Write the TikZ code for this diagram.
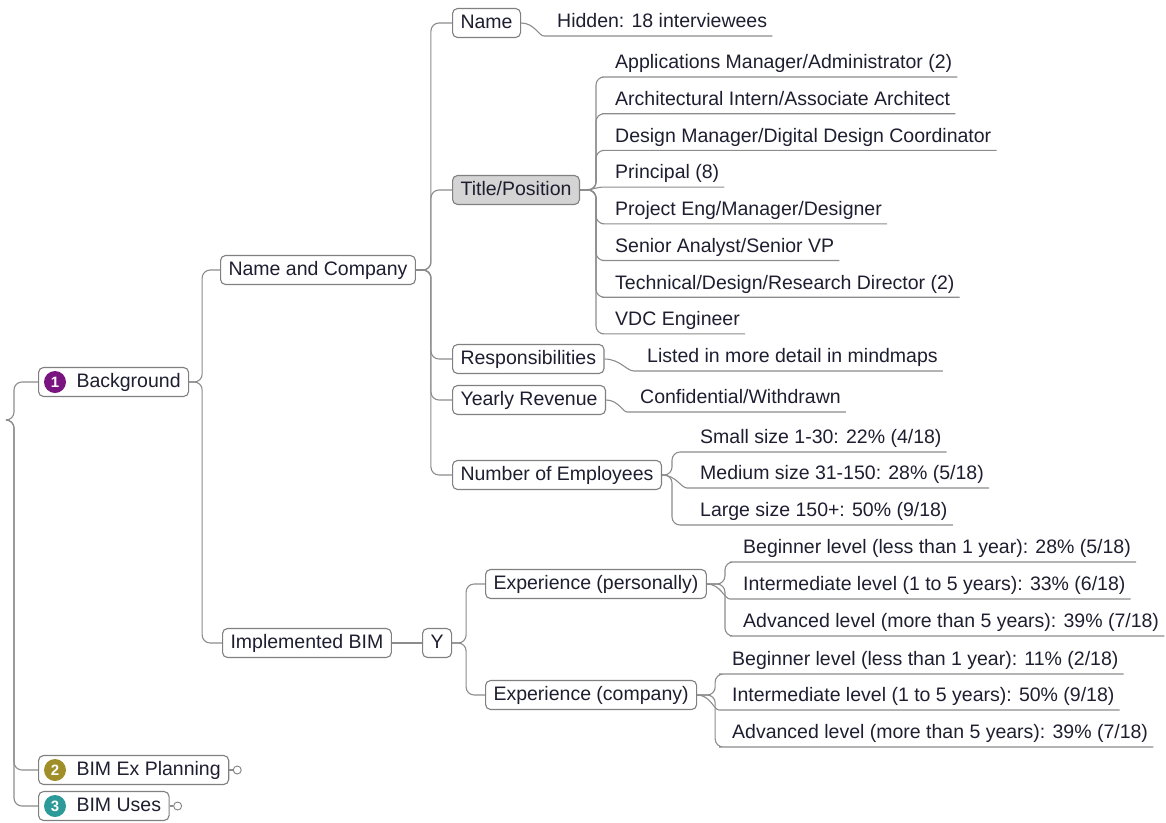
\documentclass[tikz,border=0pt]{standalone}
\usepackage{fontspec}
\setmainfont{Liberation Sans}
\definecolor{linegray}{HTML}{8C8C8C}
\definecolor{boxgray}{HTML}{808080}
\definecolor{titlefill}{HTML}{D4D4D4}
\definecolor{inkdark}{HTML}{1E1E30}
\definecolor{numpurple}{HTML}{7A1480}
\definecolor{numolive}{HTML}{A08F28}
\definecolor{numteal}{HTML}{2C9A98}
\tikzset{
  topic/.style={draw=boxgray, line width=1.1pt, rounded corners=5pt, fill=white, anchor=west,
    inner xsep=8pt, inner ysep=0pt, minimum height=29pt, text height=14pt, text depth=4pt, text=inkdark},
  leaf/.style={anchor=south west, inner xsep=5pt, inner ysep=4pt, text height=14pt, text depth=4pt, text=inkdark},
  link/.style={draw=linegray, line width=1.1pt, rounded corners=8pt},
  numdot/.style={circle, fill=#1, text=white, inner sep=0pt, minimum size=22pt,
    font=\fontsize{15}{15}\selectfont\bfseries},
  knob/.style={circle, draw=boxgray, line width=0.9pt, fill=white, inner sep=0pt, minimum size=8pt}
}
\begin{document}
\begin{tikzpicture}[x=1pt,y=-1pt,font=\fontsize{19.5}{23}\selectfont]
\useasboundingbox (0,0) rectangle (1166,822);
\coordinate (root) at (6,420);
\node[topic] (bg) at (38,382) {\hspace*{30pt}Background};
\node[topic] (bep) at (38,770) {\hspace*{30pt}BIM Ex Planning};
\node[topic] (bu) at (38,806) {\hspace*{30pt}BIM Uses};
\node[numdot=numpurple] (n1) at (55,382) {1};
\node[numdot=numolive] (n2) at (55,770) {2};
\node[numdot=numteal] (n3) at (55,806) {3};
\node[knob] (bepk) at ([xshift=8]bep.east) {};
\node[knob] (buk) at ([xshift=8]bu.east) {};
\draw[link] (bep.east) -- (bepk.west);
\draw[link] (bu.east) -- (buk.west);

\node[topic] (nc) at (220,270) {Name and Company};
\node[topic] (ib) at (222,643) {Implemented BIM};

\node[topic] (name) at (452,23) {Name};
\node[topic, fill=titlefill] (title) at (452,190) {Title/Position};
\node[topic] (resp) at (452,359) {Responsibilities};
\node[topic] (yr) at (452,400) {Yearly Revenue};
\node[topic] (ne) at (452,475) {Number of Employees};

\node[topic] (yes) at (422,643) {Y};
\node[topic] (ep) at (485,584) {Experience (personally)};
\node[topic] (ec) at (485,695) {Experience (company)};

\node[leaf] (hid) at (552,36) {Hidden: 18 interviewees};
\foreach \t [count=\i] in {Applications Manager/Administrator (2),Architectural Intern/Associate Architect,
  Design Manager/Digital Design Coordinator,Principal (8),Project Eng/Manager/Designer,
  Senior Analyst/Senior VP,Technical/Design/Research Director (2),VDC Engineer}
  \node[leaf] (t\i) at (610,40.3+36.7*\i) {\t};
\node[leaf] (lst) at (642,371) {Listed in more detail in mindmaps};
\node[leaf] (conf) at (635,412) {Confidential/Withdrawn};
\node[leaf] (e1) at (695,452) {Small size 1-30: 22\% (4/18)};
\node[leaf] (e2) at (695,488) {Medium size 31-150: 28\% (5/18)};
\node[leaf] (e3) at (695,525) {Large size 150+: 50\% (9/18)};
\node[leaf] (p1) at (738,562) {Beginner level (less than 1 year): 28\% (5/18)};
\node[leaf] (p2) at (738,599) {Intermediate level (1 to 5 years): 33\% (6/18)};
\node[leaf] (p3) at (738,636) {Advanced level (more than 5 years): 39\% (7/18)};
\node[leaf] (c1) at (727,674) {Beginner level (less than 1 year): 11\% (2/18)};
\node[leaf] (c2) at (727,710) {Intermediate level (1 to 5 years): 50\% (9/18)};
\node[leaf] (c3) at (727,747) {Advanced level (more than 5 years): 39\% (7/18)};

\foreach \kid in {bg,bep,bu} \draw[link] (root) -- ++(8,0) |- (\kid.west);
\foreach \kid in {nc,ib} \draw[link] (bg.east) -- ++(13,0) |- (\kid.west);
\foreach \kid in {name,title,resp,yr,ne} \draw[link] (nc.east) -- ++(15,0) |- (\kid.west);
\draw[link] (name.east) to[out=0,in=180] (hid.south west) -- (hid.south east);
\foreach \i in {1,2,3,5,6,7,8} \draw[link] (title.east) -- ++(16,0) |- (t\i.south west) -- (t\i.south east);
\draw[link] (title.east) to[out=0,in=180] (t4.south west) -- (t4.south east);
\draw[link] (resp.east) to[out=0,in=180] (lst.south west) -- (lst.south east);
\draw[link] (yr.east) to[out=0,in=180] (conf.south west) -- (conf.south east);
\foreach \i in {1,3} \draw[link] (ne.east) -- ++(10,0) |- (e\i.south west) -- (e\i.south east);
\draw[link] (ne.east) to[out=0,in=180] (e2.south west) -- (e2.south east);
\draw[link] (ib.east) -- (yes.west);
\foreach \kid in {ep,ec} \draw[link] (yes.east) -- ++(14,0) |- (\kid.west);
\foreach \i in {1,3} \draw[link] (ep.east) -- ++(18,0) |- (p\i.south west) -- (p\i.south east);
\draw[link] (ep.east) to[out=0,in=180] (p2.south west) -- (p2.south east);
\foreach \i in {1,3} \draw[link] (ec.east) -- ++(18,0) |- (c\i.south west) -- (c\i.south east);
\draw[link] (ec.east) to[out=0,in=180] (c2.south west) -- (c2.south east);
\end{tikzpicture}
\end{document}
